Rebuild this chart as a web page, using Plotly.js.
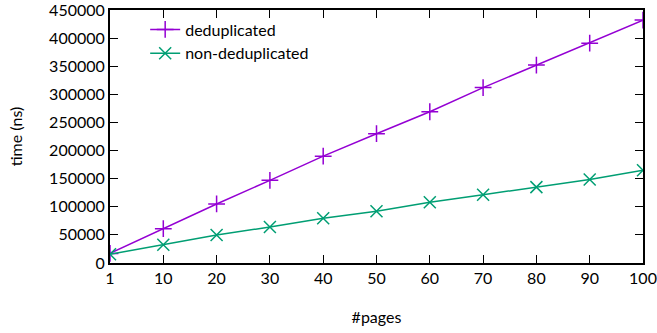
<!DOCTYPE html>
<html>
<head>
<meta charset="utf-8">
<script src="https://cdn.plot.ly/plotly-3.0.1.min.js"></script>
<style>html,body{margin:0;padding:0;background:#fff;}#chart{width:657px;height:333px;}</style>
</head>
<body>
<div id="chart"></div>
<script>
const pages = ["1","10","20","30","40","50","60","70","80","90","100"];
const deduplicated = [17000, 61000, 105000, 147000, 190000, 230000, 269000, 312000, 352000, 391000, 432000];
const nonDeduplicated = [15500, 32500, 49800, 64000, 79500, 92000, 108000, 121500, 135000, 148500, 165000];
const yTicks = [0,50000,100000,150000,200000,250000,300000,350000,400000,450000];

const FONT = "Lato, 'DejaVu Sans', sans-serif";
const traces = [
  {x: pages, y: deduplicated, name: "deduplicated", type: "scatter", mode: "lines+markers",
   line: {color: "#9400d3", width: 1.5},
   marker: {symbol: "cross-thin", size: 12, color: "#9400d3", line: {color: "#9400d3", width: 1.5}}},
  {x: pages, y: nonDeduplicated, name: "non-deduplicated", type: "scatter", mode: "lines+markers",
   line: {color: "#009e73", width: 1.5},
   marker: {symbol: "x-thin", size: 12, color: "#009e73", line: {color: "#009e73", width: 1.5}}}
];
const layout = {
  width: 657, height: 333,
  margin: {l: 110, r: 14, t: 10, b: 70},
  paper_bgcolor: "#fff", plot_bgcolor: "#fff",
  font: {family: FONT, size: 16, color: "#000"},
  showlegend: true,
  legend: {x: 0.066, y: 0.99, xanchor: "left", yanchor: "top", bgcolor: "rgba(0,0,0,0)",
           font: {family: FONT, size: 16, color: "#000"}, tracegroupgap: 0},
  xaxis: {type: "category", range: [0, 10], showgrid: false, zeroline: false,
          showline: true, linecolor: "#000", linewidth: 2, mirror: "ticks",
          ticks: "inside", ticklen: 8, tickwidth: 1.2, tickcolor: "#000",
          tickfont: {family: FONT, size: 16},
          title: {text: "#pages", font: {family: FONT, size: 16}, standoff: 26}},
  yaxis: {range: [0, 450000], tickvals: yTicks, ticktext: yTicks.map(String),
          ticklabeloverflow: "allow",
          showgrid: false, zeroline: false,
          showline: true, linecolor: "#000", linewidth: 2, mirror: "ticks",
          ticks: "inside", ticklen: 8, tickwidth: 1.2, tickcolor: "#000",
          tickfont: {family: FONT, size: 16},
          title: {text: "time (ns)", font: {family: FONT, size: 16}, standoff: 23}}
};
Plotly.newPlot("chart", traces, layout, {displayModeBar: false, staticPlot: true});
</script>
</body>
</html>
